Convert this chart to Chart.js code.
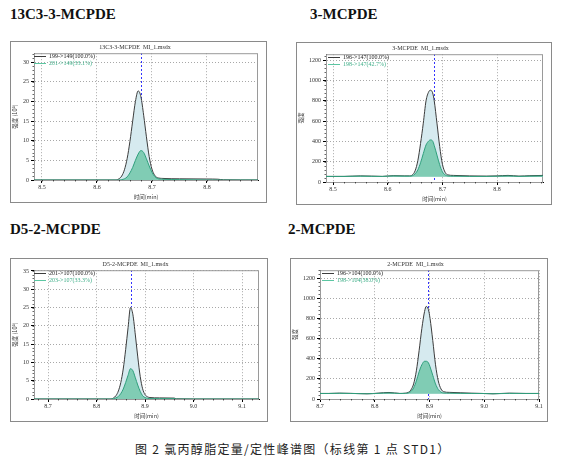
<!DOCTYPE html>
<html>
<head>
<meta charset="utf-8">
<script src="https://cdn.jsdelivr.net/npm/chart.js@4.4.1/dist/chart.umd.min.js"></script>
<style>
    body { margin: 0; background: #fff; width: 563px; height: 461px; position: relative; overflow: hidden; }
    .head { position: absolute; font: bold 15px "Liberation Serif", serif; line-height: 15px; color: #111; }
    .box { position: absolute; border: 1px solid #8a8a8a; }
    .box canvas { display: block; }
    #caption { position: absolute; left: 135px; top: 440px; font: 12px "Noto Sans CJK SC", sans-serif; letter-spacing: 1.3px; color: #222; white-space: pre; }
</style>
</head>
<body>

<div class="head" style="left:10px; top:7px;">13C3-3-MCPDE</div>
<div class="head" style="left:310px; top:7px;">3-MCPDE</div>
<div class="head" style="left:10px; top:222px;">D5-2-MCPDE</div>
<div class="head" style="left:288px; top:222px;">2-MCPDE</div>

<div class="box" style="left:10px; top:41px;"><canvas id="c1" width="255" height="160"></canvas></div>
<div class="box" style="left:296px; top:42px;"><canvas id="c2" width="254" height="161"></canvas></div>
<div class="box" style="left:10px; top:258px;"><canvas id="c3" width="256" height="162"></canvas></div>
<div class="box" style="left:290px; top:258px;"><canvas id="c4" width="256" height="162"></canvas></div>

<div id="caption">图 2 氯丙醇脂定量/定性峰谱图（标线第 1 点 STD1）</div>

<script>
// 13C3-3-MCPDE (10^3)
const p1Times = [8.4855, 8.60, 8.635, 8.64, 8.645, 8.65, 8.655, 8.66, 8.665, 8.67, 8.675, 8.68, 8.685, 8.69, 8.695, 8.70, 8.705, 8.71, 8.72, 8.75, 8.80, 8.82, 8.83, 8.893];
const p1Quant = [0, 0, 0, 0.3, 1.0, 2.6, 5.5, 9.8, 15, 20, 22.7, 21.2, 16.5, 11, 6, 2.8, 1.2, 0.6, 0.4, 0.3, 0.25, 0.2, 0.05, 0];
const p1Qual  = [0, 0, 0, 0, 0.1, 0.3, 0.8, 1.8, 3.2, 5, 6.6, 7.5, 7, 5.4, 3.6, 2, 0.9, 0.4, 0.2, 0.1, 0, 0, 0, 0];
const p1Labels = ["199->149(100.0%)", "201->149(33.1%)"];
const p1Rt = 8.681;

// 3-MCPDE
const p2Times = [8.487, 8.52, 8.55, 8.57, 8.59, 8.61, 8.63, 8.64, 8.645, 8.65, 8.655, 8.66, 8.665, 8.67, 8.675, 8.678, 8.682, 8.685, 8.69, 8.695, 8.70, 8.705, 8.71, 8.72, 8.75, 8.78, 8.80, 8.82, 8.84, 8.86, 8.884];
const p2Quant = [55, 55, 60, 58, 55, 62, 60, 60, 70, 110, 210, 380, 580, 800, 890, 905, 880, 800, 580, 350, 175, 95, 70, 65, 60, 58, 60, 65, 58, 62, 65];
const p2Qual  = [55, 55, 58, 56, 55, 60, 58, 58, 62, 80, 120, 190, 280, 365, 405, 415, 405, 360, 265, 170, 100, 70, 60, 58, 55, 55, 57, 60, 55, 58, 60];
const p2Labels = ["196->147(100.0%)", "198->147(42.7%)"];
const p2Rt = 8.685;

// D5-2-MCPDE (10^3)
const p3Times = [8.671, 8.80, 8.83, 8.835, 8.84, 8.845, 8.85, 8.855, 8.86, 8.865, 8.87, 8.875, 8.88, 8.885, 8.89, 8.895, 8.90, 8.905, 8.91, 8.93, 8.96, 8.965, 9.00, 9.135];
const p3Quant = [0, 0, 0, 0.3, 0.9, 2.2, 4.5, 8.2, 13.5, 19.5, 25, 23, 17.5, 11.5, 6.2, 2.8, 1.2, 0.6, 0.4, 0.3, 0.25, 0.05, 0, 0];
const p3Qual  = [0, 0, 0, 0.1, 0.3, 0.7, 1.5, 2.7, 4.5, 6.5, 8.3, 7.7, 5.8, 3.8, 2.1, 0.9, 0.4, 0.2, 0.1, 0.1, 0.1, 0, 0, 0];
const p3Labels = ["201->107(100.0%)", "203->107(33.3%)"];
const p3Rt = 8.872;

// 2-MCPDE
const p4Times = [8.704, 8.72, 8.74, 8.76, 8.79, 8.81, 8.83, 8.85, 8.86, 8.865, 8.87, 8.875, 8.88, 8.885, 8.89, 8.895, 8.898, 8.902, 8.905, 8.91, 8.915, 8.92, 8.925, 8.93, 8.94, 8.96, 8.98, 9.00, 9.02, 9.05, 9.08, 9.104];
const p4Quant = [55, 55, 58, 56, 52, 58, 65, 55, 58, 65, 90, 150, 280, 480, 700, 870, 920, 890, 800, 580, 340, 180, 100, 72, 66, 62, 58, 55, 52, 58, 55, 55];
const p4Qual  = [55, 55, 57, 55, 52, 56, 60, 55, 56, 60, 75, 110, 180, 270, 340, 375, 375, 360, 320, 235, 150, 95, 68, 60, 58, 56, 55, 55, 52, 56, 55, 55];
const p4Labels = ["196->104(100.0%)", "198->104(38.0%)"];
const p4Rt = 8.903;

const panels = [
    { id: "c1", title: "13C3-3-MCPDE  MI_1.msdx", times: p1Times, quant: p1Quant, qual: p1Qual, labels: p1Labels, rt: p1Rt,
      xMin: 8.4855, xMax: 8.893, yMax: 32.3, yStep: 5, yTitle: "强度 (10³)", yWidth: 22, base: 0, legendX: 0 },
    { id: "c2", title: "3-MCPDE  MI_1.msdx", times: p2Times, quant: p2Quant, qual: p2Qual, labels: p2Labels, rt: p2Rt,
      xMin: 8.487, xMax: 8.884, yMax: 1260, yStep: 200, yTitle: "强度", yWidth: 28, base: 52, legendX: 2 },
    { id: "c3", title: "D5-2-MCPDE  MI_1.msdx", times: p3Times, quant: p3Quant, qual: p3Qual, labels: p3Labels, rt: p3Rt,
      xMin: 8.671, xMax: 9.135, yMax: 35.2, yStep: 5, yTitle: "强度 (10³)", yWidth: 22, base: 0, legendX: 0 },
    { id: "c4", title: "2-MCPDE  MI_1.msdx", times: p4Times, quant: p4Quant, qual: p4Qual, labels: p4Labels, rt: p4Rt,
      xMin: 8.704, xMax: 9.104, yMax: 1280, yStep: 200, yTitle: "强度", yWidth: 28, base: 52, legendX: 2 }
];

const serif = "'Liberation Serif', serif";

// gray frame round the plot area
const framePlugin = {
    id: "frame",
    beforeDatasetsDraw(chart) {
        const a = chart.chartArea;
        const ctx = chart.ctx;
        ctx.save();
        ctx.setLineDash([]);
        ctx.strokeStyle = "#9a9a9a";
        ctx.lineWidth = 1;
        ctx.strokeRect(a.left + 0.5, a.top + 0.5, a.width - 1, a.height);
        ctx.restore();
    }
};

// small minor ticks on both axes
const minorTicks = {
    id: "minorTicks",
    afterDraw(chart) {
        const ctx = chart.ctx;
        const xs = chart.scales.x;
        const ys = chart.scales.y;
        const a = chart.chartArea;
        ctx.save();
        ctx.setLineDash([]);
        ctx.strokeStyle = "#000";
        ctx.lineWidth = 0.6;
        ctx.beginPath();
        const yStep = chart.options.scales.y.ticks.stepSize / 5;
        for (let v = 0; v <= ys.max; v += yStep) {
            const py = Math.round(ys.getPixelForValue(v)) + 0.5;
            ctx.moveTo(a.left - 1.5, py);
            ctx.lineTo(a.left, py);
        }
        const xStep = 0.02;
        for (let v = Math.ceil(xs.min / xStep) * xStep; v <= xs.max; v += xStep) {
            const px = Math.round(xs.getPixelForValue(v)) + 0.5;
            ctx.moveTo(px, a.bottom);
            ctx.lineTo(px, a.bottom + 1.5);
        }
        ctx.stroke();
        ctx.restore();
    }
};

// legend drawn inside the plot, top left
const innerLegend = {
    id: "innerLegend",
    afterDatasetsDraw(chart, args, opts) {
        const ctx = chart.ctx;
        const a = chart.chartArea;
        const colors = ["#3c3c3c", "#5cc6a2"];
        const text = ["#222", "#3fae88"];
        ctx.save();
        ctx.setLineDash([]);
        ctx.font = "6px " + serif;
        ctx.textBaseline = "middle";
        [0, 1].forEach(i => {
            const y = Math.round(a.top + 2.5 + i * 7) + 0.5;
            const x = a.left + opts.x;
            ctx.strokeStyle = colors[i];
            ctx.lineWidth = 1;
            ctx.beginPath();
            ctx.moveTo(x, y);
            ctx.lineTo(x + 12, y);
            ctx.stroke();
            ctx.fillStyle = text[i];
            ctx.fillText(chart.data.datasets[i].label, x + 15, y);
        });
        ctx.restore();
    }
};

panels.forEach(p => {

    const toPoints = ys => p.times.map((t, i) => ({ x: t, y: ys[i] }));

    new Chart(document.getElementById(p.id), {
        type: "line",
        data: {
            datasets: [
                {
                    label: p.labels[0],
                    data: toPoints(p.quant),
                    borderColor: "#3c3c3c",
                    borderWidth: 1,
                    backgroundColor: "#d6eaef",
                    fill: { value: p.base },
                    pointRadius: 0,
                    cubicInterpolationMode: "monotone",
                    order: 3
                },
                {
                    label: p.labels[1],
                    data: toPoints(p.qual),
                    borderColor: "#2f9f7c",
                    borderWidth: 1,
                    backgroundColor: "#80ccb4",
                    fill: { value: p.base },
                    pointRadius: 0,
                    cubicInterpolationMode: "monotone",
                    order: 2
                }
            ]
        },
        options: {
            responsive: false,
            animation: false,
            layout: { padding: { right: 8, bottom: 2, left: 1 } },
            plugins: {
                tooltip: { enabled: false },
                legend: { display: false },
                innerLegend: { x: p.legendX },
                title: {
                    display: true,
                    text: p.title,
                    color: "#333",
                    font: { family: serif, size: 6, weight: "normal" },
                    padding: { top: 2, bottom: 2 }
                }
            },
            scales: {
                x: {
                    type: "linear",
                    min: p.xMin,
                    max: p.xMax,
                    border: { color: "#000", width: 1, dash: [1, 2] },
                    grid: { color: "#a8a8a8", tickLength: 3, tickColor: "#000", tickBorderDash: [] },
                    ticks: {
                        stepSize: 0.1,
                        includeBounds: false,
                        maxRotation: 0,
                        color: "#333",
                        padding: 1,
                        font: { family: serif, size: 6 },
                        callback: v => v.toFixed(1)
                    },
                    title: {
                        display: true,
                        text: "时间(min)",
                        color: "#333",
                        font: { family: "'Noto Sans CJK SC', sans-serif", size: 5.5 },
                        padding: { top: 0, bottom: 0 }
                    },
                    afterFit: s => { s.height = 20; }
                },
                // retention-time marker: one grid line at the peak time
                rt: {
                    type: "linear",
                    axis: "x",
                    position: "top",
                    min: p.xMin,
                    max: p.xMax,
                    z: 1,
                    border: { display: false, dash: [2, 2] },
                    grid: { color: "#3333ff", lineWidth: 1, drawTicks: false },
                    ticks: { display: false },
                    afterBuildTicks: s => { s.ticks = [{ value: p.rt }]; },
                    afterFit: s => { s.height = 0; }
                },
                y: {
                    min: 0,
                    max: p.yMax,
                    border: { color: "#000", width: 1, dash: [1, 2] },
                    grid: { color: "#a8a8a8", tickLength: 3, tickColor: "#000", tickBorderDash: [] },
                    ticks: {
                        stepSize: p.yStep,
                        includeBounds: false,
                        color: "#333",
                        padding: 2,
                        font: { family: serif, size: 6 },
                        callback: v => String(v)
                    },
                    title: {
                        display: true,
                        text: p.yTitle,
                        color: "#333",
                        font: { family: "'Noto Sans CJK SC', sans-serif", size: 5.5 },
                        padding: { top: 0, bottom: 0 }
                    },
                    afterFit: s => { s.width = p.yWidth; }
                }
            }
        },
        plugins: [framePlugin, minorTicks, innerLegend]
    });
});
</script>
</body>
</html>
